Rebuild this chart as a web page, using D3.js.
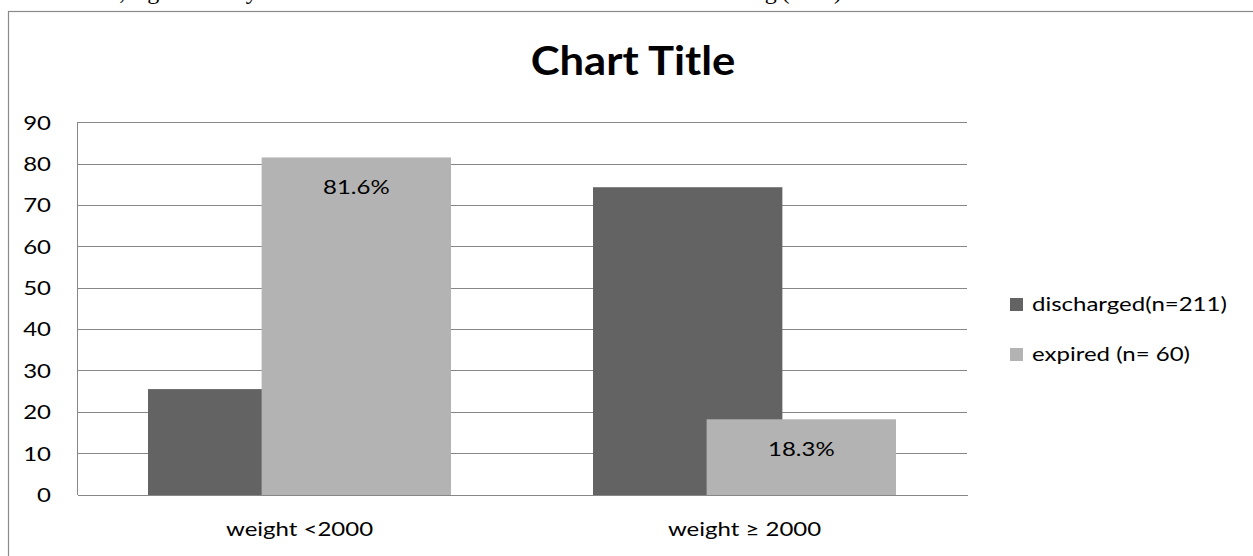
<!DOCTYPE html>
<meta charset="utf-8">
<style>

body {
  margin: 0;
  background: #fff;
}

svg text {
  font-family: Lato, "Open Sans", sans-serif;
  fill: #000;
}

.axis path,
.axis line {
  fill: none;
  stroke: #878787;
  shape-rendering: crispEdges;
}

.grid line {
  stroke: #878787;
  shape-rendering: crispEdges;
}

.axis text {
  font-size: 20px;
}

</style>
<body>
<svg width="1253" height="556"></svg>
<script src="https://d3js.org/d3.v7.min.js"></script>
<script>

var categories = ["weight <2000", "weight \u2265 2000"],
    seriesNames = ["discharged(n=211)", "expired (n= 60)"],
    discharged = [25.6, 74.4],
    expired = [81.6, 18.3],
    yTicks = [0, 10, 20, 30, 40, 50, 60, 70, 80, 90];

var colors = ["#636363", "#b3b3b3"];

var svg = d3.select("svg"),
    margin = {top: 122.7, right: 286, bottom: 61, left: 77},
    width = +svg.attr("width") - margin.left - margin.right,
    height = +svg.attr("height") - margin.top - margin.bottom;

// the chart text in the picture is a bit wider than Lato, stretch it
var stretch = 1.2;
function widen(sel, k) {
  sel.each(function() {
    var t = d3.select(this),
        tx = +t.attr("x") || 0,
        ty = +t.attr("y") || 0;
    t.attr("x", null).attr("y", null)
      .attr("transform", "translate(" + tx + "," + ty + ") scale(" + (k || stretch) + ",1)");
  });
}

// cut off line of the document text above the chart
svg.append("text")
    .attr("x", 52)
    .attr("y", -1)
    .attr("textLength", 790)
    .attr("lengthAdjust", "spacing")
    .style("font-family", "'Liberation Serif', 'Times New Roman', serif")
    .style("font-size", "24px")
    .text("Overall, high mortality rate was noticed in the neonatal intensive care unit during (2010)");

// chart frame
svg.append("rect")
    .attr("x", 8.5)
    .attr("y", 11.5)
    .attr("width", 1300)
    .attr("height", 600)
    .attr("fill", "none")
    .attr("stroke", "#8a8a8a")
    .attr("stroke-width", 1.2);

svg.append("text")
    .attr("x", 633)
    .attr("y", 75)
    .attr("text-anchor", "middle")
    .style("font-size", "40px")
    .style("font-weight", "bold")
    .text("Chart Title")
    .call(widen, 1.09);

var g = svg.append("g")
    .attr("transform", "translate(" + margin.left + "," + margin.top + ")");

var x0 = d3.scaleBand().domain(categories).range([0, width]).padding(0),
    y = d3.scaleLinear().domain([0, 90]).range([height, 0]);

// excel style: gap width 75%, overlap 40%
var gapWidth = 0.75, overlap = 0.4,
    barW = x0.bandwidth() / (2 - overlap + gapWidth),
    step = barW * (1 - overlap),
    groupW = barW + step;

g.append("g")
    .attr("class", "grid")
  .selectAll("line")
  .data(yTicks.slice(1))
  .enter().append("line")
    .attr("x1", 0)
    .attr("x2", width)
    .attr("y1", function(d) { return y(d); })
    .attr("y2", function(d) { return y(d); });

var series = [discharged, expired];

series.forEach(function(vals, s) {
  g.selectAll(".bar" + s)
    .data(vals)
    .enter().append("rect")
      .attr("class", "bar" + s)
      .attr("x", function(d, i) { return x0(categories[i]) + (x0.bandwidth() - groupW) / 2 + s * step; })
      .attr("y", function(d) { return y(d); })
      .attr("width", barW)
      .attr("height", function(d) { return height - y(d); })
      .attr("fill", colors[s]);
});

// data labels on expired
g.selectAll(".lbl")
  .data(expired)
  .enter().append("text")
    .attr("class", "lbl")
    .attr("x", function(d, i) { return x0(categories[i]) + (x0.bandwidth() - groupW) / 2 + step + barW / 2; })
    .attr("y", function(d) { return y(d) + 37; })
    .attr("text-anchor", "middle")
    .style("font-size", "20px")
    .text(function(d) { return d.toFixed(1) + "%"; })
    .call(widen);

g.append("g")
    .attr("class", "axis")
    .attr("transform", "translate(0," + height + ")")
    .call(d3.axisBottom(x0).tickSize(0).tickPadding(27))
  .selectAll("text")
    .attr("dy", "0.71em")
    .call(widen);

g.append("g")
    .attr("class", "axis")
    .call(d3.axisLeft(y).tickValues(yTicks).tickSize(0).tickPadding(26).tickFormat(d3.format("d")))
  .selectAll("text")
    .call(widen);

var legend = svg.append("g")
    .attr("transform", "translate(1010,298)")
  .selectAll("g")
  .data(seriesNames)
  .enter().append("g")
    .attr("transform", function(d, i) { return "translate(0," + i * 50 + ")"; });

legend.append("rect")
    .attr("width", 13)
    .attr("height", 13)
    .attr("fill", function(d, i) { return colors[i]; });

legend.append("text")
    .attr("x", 22)
    .attr("y", 13)
    .style("font-size", "20px")
    .text(function(d) { return d; })
    .call(widen);

</script>
</body>
